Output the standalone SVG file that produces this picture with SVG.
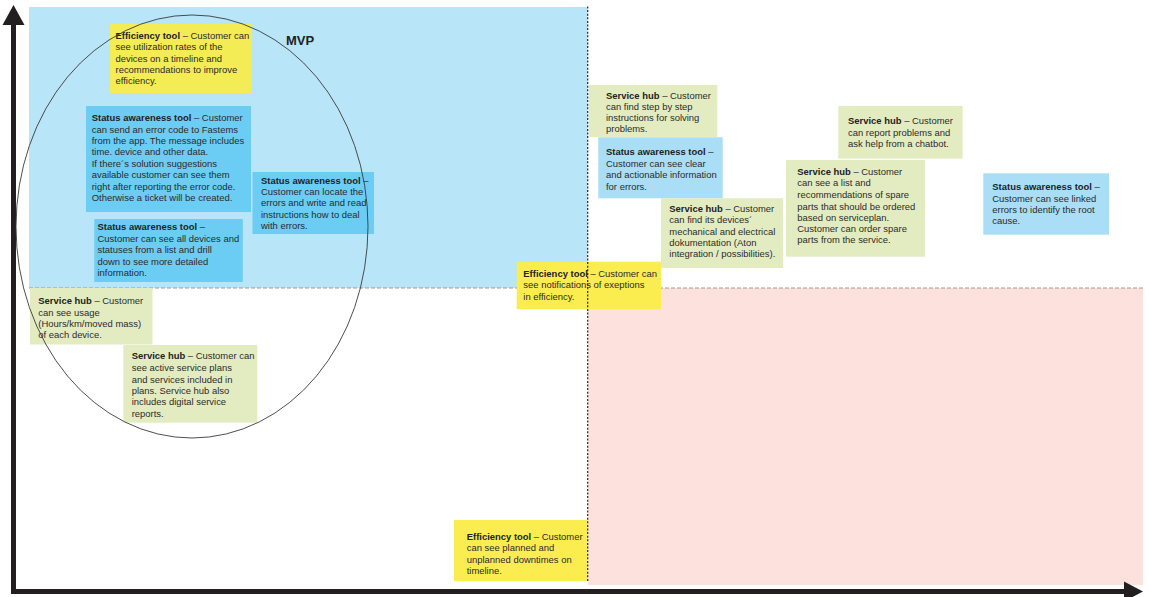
<svg xmlns="http://www.w3.org/2000/svg" width="1149" height="597" viewBox="0 0 1149 597">
<style>
text{font-family:"Liberation Sans",Arial,sans-serif;font-size:9.45px;fill:#2b2b2b}
.b{font-weight:bold;fill:#222}
.yel{fill:#FBEC4F}
.yel2{fill:#F4EC55}
.dblue{fill:#6BCCF4}
.lblue{fill:#A9DEF6}
.green{fill:#E3ECC1}
.axis{stroke:#231F20;stroke-width:5;fill:none}
.mvp{font-size:13px;font-weight:bold;fill:#222}
</style>
<rect width="1149" height="597" fill="#fff"/>
<g id="quadrants">
<rect x="29" y="7" width="558.5" height="281" fill="#B9E5F9"/>
<rect x="588" y="288" width="555" height="297" fill="#FCE1DC"/>
<line x1="29" y1="288" x2="1143" y2="288" stroke="#9a9a9a" stroke-width="1.2" stroke-dasharray="4 2"/>
</g>
<g id="axes">
<line class="axis" x1="13.5" y1="22" x2="13.5" y2="594"/>
<line class="axis" x1="11" y1="591.5" x2="1127" y2="591.5"/>
<polygon points="13.5,5 24.5,25 2.5,25" fill="#231F20"/>
<polygon points="1143,591.5 1124,581.5 1124,601.5" fill="#231F20"/>
</g>
<g id="node-eff-util">
<rect class="yel2" x="110" y="24" width="142" height="69"/>
<text x="115.5" y="39"><tspan class="b">Efficiency tool</tspan> – Customer can</text>
<text x="115.5" y="50.3">see utilization rates of the</text>
<text x="115.5" y="61.6">devices on a timeline and</text>
<text x="115.5" y="72.9">recommendations to improve</text>
<text x="115.5" y="84.2">efficiency.</text>
</g>
<g id="node-status-send">
<rect class="dblue" x="86" y="106" width="165" height="106"/>
<text x="91.7" y="121.2"><tspan class="b">Status awareness tool</tspan> – Customer</text>
<text x="91.7" y="132.6">can send an error code to Fastems</text>
<text x="91.7" y="144">from the app. The message includes</text>
<text x="91.7" y="155.4">time. device and other data.</text>
<text x="91.7" y="167">If there´s solution suggestions</text>
<text x="91.7" y="178.3">available customer can see them</text>
<text x="91.7" y="189.6">right after reporting the error code.</text>
<text x="91.7" y="201">Otherwise a ticket will be created.</text>
</g>
<g id="node-status-locate">
<rect class="dblue" x="252.5" y="172" width="121.5" height="62"/>
<text x="261" y="183.6"><tspan class="b">Status awareness tool</tspan> –</text>
<text x="261" y="194.9">Customer can locate the</text>
<text x="261" y="206.2">errors and write and read</text>
<text x="261" y="217.5">instructions how to deal</text>
<text x="261" y="228.8">with errors.</text>
</g>
<g id="node-status-devices">
<rect class="dblue" x="94.3" y="219" width="148.5" height="63"/>
<text x="97.5" y="230.2"><tspan class="b">Status awareness tool</tspan> –</text>
<text x="97.5" y="241.7">Customer can see all devices and</text>
<text x="97.5" y="253.1">statuses from a list and drill</text>
<text x="97.5" y="264.5">down to see more detailed</text>
<text x="97.5" y="275.9">information.</text>
</g>
<g id="node-service-usage">
<rect class="green" x="30" y="288" width="122.5" height="56.5"/>
<text x="38.3" y="304.2"><tspan class="b">Service hub</tspan> – Customer</text>
<text x="38.3" y="315.5">can see usage</text>
<text x="38.3" y="326.8">(Hours/km/moved mass)</text>
<text x="38.3" y="338.2">of each device.</text>
</g>
<g id="node-service-plans">
<rect class="green" x="123.3" y="345" width="134" height="77.7"/>
<text x="131.7" y="359.2"><tspan class="b">Service hub</tspan> – Customer can</text>
<text x="131.7" y="371">see active service plans</text>
<text x="131.7" y="382.5">and services included in</text>
<text x="131.7" y="393.9">plans. Service hub also</text>
<text x="131.7" y="405.2">includes digital service</text>
<text x="131.7" y="416.5">reports.</text>
</g>
<g id="node-service-step">
<rect class="green" x="589" y="85" width="128.3" height="52"/>
<text x="606" y="98.5"><tspan class="b">Service hub</tspan> – Customer</text>
<text x="606" y="109.7">can find step by step</text>
<text x="606" y="120.8">instructions for solving</text>
<text x="606" y="132.4">problems.</text>
</g>
<g id="node-status-clear">
<rect class="lblue" x="598.3" y="137.3" width="124.4" height="61"/>
<text x="606" y="155.2"><tspan class="b">Status awareness tool</tspan> –</text>
<text x="606" y="167.1">Customer can see clear</text>
<text x="606" y="178.4">and actionable information</text>
<text x="606" y="189.6">for errors.</text>
</g>
<g id="node-service-docs">
<rect class="green" x="661" y="198.3" width="122" height="69.7"/>
<text x="669.3" y="211.8"><tspan class="b">Service hub</tspan> – Customer</text>
<text x="669.3" y="223">can find its devices´</text>
<text x="669.3" y="234.8">mechanical and electrical</text>
<text x="669.3" y="246.3">dokumentation (Aton</text>
<text x="669.3" y="257.3">integration / possibilities).</text>
</g>
<g id="node-eff-exceptions">
<rect class="yel" x="516.7" y="261.7" width="144.3" height="47.5"/>
<text x="523.3" y="276.8"><tspan class="b">Efficiency tool</tspan> – Customer can</text>
<text x="523.3" y="288.4">see notifications of exeptions</text>
<text x="523.3" y="299.5">in efficiency.</text>
</g>
<g id="node-service-chatbot">
<rect class="green" x="838.3" y="106" width="124.4" height="52.7"/>
<text x="848" y="124.2"><tspan class="b">Service hub</tspan> – Customer</text>
<text x="848" y="135.7">can report problems and</text>
<text x="848" y="147.2">ask help from a chatbot.</text>
</g>
<g id="node-service-spare">
<rect class="green" x="786" y="160" width="139" height="96.7"/>
<text x="797.3" y="175.2"><tspan class="b">Service hub</tspan> – Customer</text>
<text x="797.3" y="186.4">can see a list and</text>
<text x="797.3" y="198.2">recommendations of spare</text>
<text x="797.3" y="209.5">parts that should be ordered</text>
<text x="797.3" y="220.8">based on serviceplan.</text>
<text x="797.3" y="232.1">Customer can order spare</text>
<text x="797.3" y="243.1">parts from the service.</text>
</g>
<g id="node-status-linked">
<rect class="lblue" x="983.3" y="173.3" width="125.7" height="61.4"/>
<text x="992.3" y="190.2"><tspan class="b">Status awareness tool</tspan> –</text>
<text x="992.3" y="201.5">Customer can see linked</text>
<text x="992.3" y="212.6">errors to identify the root</text>
<text x="992.3" y="223.9">cause.</text>
</g>
<g id="node-eff-downtimes">
<rect class="yel" x="454" y="520" width="133.7" height="61"/>
<text x="466.7" y="540.2"><tspan class="b">Efficiency tool</tspan> – Customer</text>
<text x="466.7" y="551.3">can see planned and</text>
<text x="466.7" y="562.8">unplanned downtimes on</text>
<text x="466.7" y="574.2">timeline.</text>
</g>
<g id="connectors">
<line x1="587.7" y1="6.5" x2="587.7" y2="582" stroke="#222" stroke-width="1.2" stroke-dasharray="2 1.6"/>
</g>
<g id="node-mvp">
<ellipse cx="192" cy="226.5" rx="176" ry="211.5" fill="none" stroke="#3a3a3a" stroke-width="0.9"/>
<text class="mvp" x="286" y="45">MVP</text>
</g>
</svg>
